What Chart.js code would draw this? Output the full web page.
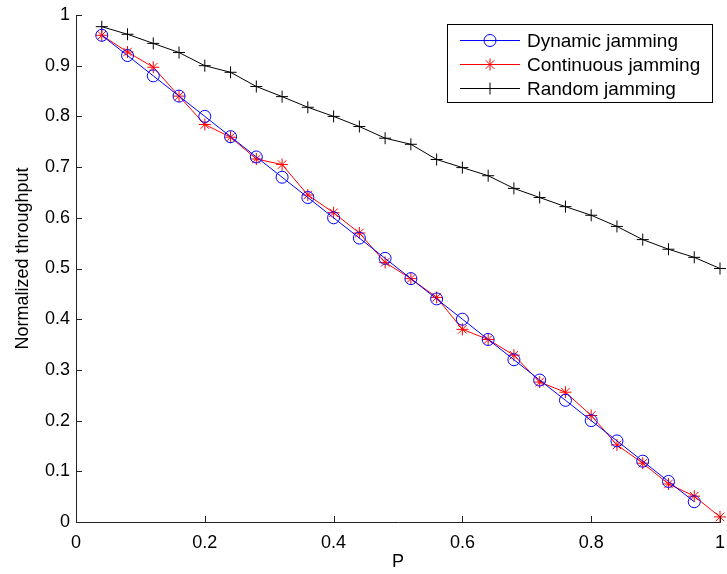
<!DOCTYPE html>
<html>
<head>
<meta charset="utf-8">
<script src="https://cdn.jsdelivr.net/npm/chart.js@4.4.1/dist/chart.umd.min.js"></script>
<style>
  body { margin: 0; background: #fff; }
  #wrap { width: 727px; height: 574px; }
</style>
</head>
<body>
<div id="wrap"><canvas id="throughput-chart" width="727" height="574"></canvas></div>
<script>
const pValues = [0.04, 0.08, 0.12, 0.16, 0.20, 0.24, 0.28, 0.32, 0.36, 0.40, 0.44, 0.48, 0.52,
  0.56, 0.60, 0.64, 0.68, 0.72, 0.76, 0.80, 0.84, 0.88, 0.92, 0.96, 1.00];
const dynamicJamming = [0.96, 0.92, 0.88, 0.84, 0.80, 0.76, 0.72, 0.68, 0.64, 0.60, 0.56, 0.52,
  0.48, 0.44, 0.40, 0.36, 0.32, 0.28, 0.24, 0.20, 0.16, 0.12, 0.08, 0.04];
const continuousJamming = [0.96, 0.927, 0.897, 0.84, 0.784, 0.759, 0.716, 0.705, 0.645, 0.610,
  0.570, 0.512, 0.480, 0.443, 0.380, 0.360, 0.329, 0.276, 0.256, 0.210, 0.152, 0.116, 0.075,
  0.051, 0.010];
const randomJamming = [0.977, 0.962, 0.944, 0.926, 0.900, 0.887, 0.859, 0.839, 0.818, 0.800,
  0.780, 0.757, 0.745, 0.715, 0.699, 0.683, 0.658, 0.640, 0.622, 0.605, 0.583, 0.557, 0.538,
  0.522, 0.500];
const xTicks = [0, 0.2, 0.4, 0.6, 0.8, 1];
const yTicks = [0, 0.1, 0.2, 0.3, 0.4, 0.5, 0.6, 0.7, 0.8, 0.9, 1];
const yTitle = "Normalized throughput";

const FONT = "Arial, 'Liberation Sans', Helvetica, sans-serif";

function toPoints(values) {
  return values.map((v, i) => ({ x: pValues[i], y: v }));
}

function drawMarker(ctx, style, x, y, r) {
  ctx.beginPath();
  if (style === "circle") {
    ctx.arc(x, y, r, 0, Math.PI * 2);
  } else if (style === "star") {
    ctx.moveTo(x - r, y); ctx.lineTo(x + r, y);
    ctx.moveTo(x, y - r); ctx.lineTo(x, y + r);
    const d = r * 0.707;
    ctx.moveTo(x - d, y - d); ctx.lineTo(x + d, y + d);
    ctx.moveTo(x - d, y + d); ctx.lineTo(x + d, y - d);
  } else {
    ctx.moveTo(x - r, y); ctx.lineTo(x + r, y);
    ctx.moveTo(x, y - r); ctx.lineTo(x, y + r);
  }
  ctx.stroke();
}

// inward tick marks, matlab style, plus the y label (sits a bit above centre)
const innerTicks = {
  id: "innerTicks",
  afterDraw(chart) {
    const ctx = chart.ctx;
    const xs = chart.scales.x, ys = chart.scales.y;
    const area = chart.chartArea;
    ctx.save();
    ctx.strokeStyle = "#222";
    ctx.lineWidth = 1;
    ctx.beginPath();
    xTicks.forEach((t) => {
      const px = Math.round(xs.getPixelForValue(t)) + 0.5;
      ctx.moveTo(px, area.bottom);
      ctx.lineTo(px, area.bottom - 6);
    });
    yTicks.forEach((t) => {
      const py = Math.round(ys.getPixelForValue(t)) + 0.5;
      ctx.moveTo(area.left, py);
      ctx.lineTo(area.left + 6, py);
    });
    ctx.stroke();

    ctx.translate(23, (area.top + area.bottom) / 2 - 10);
    ctx.rotate(-Math.PI / 2);
    ctx.font = "18px " + FONT;
    ctx.fillStyle = "#000";
    ctx.textAlign = "center";
    ctx.textBaseline = "middle";
    ctx.fillText(yTitle, 0, 0);
    ctx.restore();
  },
};

const boxLegend = {
  id: "boxLegend",
  afterDraw(chart) {
    const ctx = chart.ctx;
    const bx = 447.5, by = 24.5, bw = 265, bh = 78;
    ctx.save();
    ctx.fillStyle = "#fff";
    ctx.fillRect(bx, by, bw, bh);
    ctx.strokeStyle = "#000";
    ctx.lineWidth = 1;
    ctx.strokeRect(bx, by, bw, bh);
    ctx.font = "19px " + FONT;
    ctx.textBaseline = "middle";
    ctx.textAlign = "left";
    chart.data.datasets.forEach((ds, i) => {
      const y = 40.5 + i * 24;
      ctx.strokeStyle = ds.borderColor;
      ctx.beginPath();
      ctx.moveTo(460, y);
      ctx.lineTo(520, y);
      ctx.stroke();
      drawMarker(ctx, ds.pointStyle, 490, y, ds.pointRadius);
      ctx.fillStyle = "#000";
      ctx.fillText(ds.label, 527, y + 1);
    });
    ctx.restore();
  },
};

const ctx = document.getElementById("throughput-chart").getContext("2d");
new Chart(ctx, {
  type: "line",
  data: {
    datasets: [
      {
        label: "Dynamic jamming",
        data: toPoints(dynamicJamming),
        borderColor: "#0000ff",
        backgroundColor: "transparent",
        borderWidth: 1,
        pointStyle: "circle",
        pointRadius: 6,
        pointBorderWidth: 1,
        pointBackgroundColor: "transparent",
        pointBorderColor: "#0000ff",
        tension: 0,
        clip: false,
      },
      {
        label: "Continuous jamming",
        data: toPoints(continuousJamming),
        borderColor: "#ff0000",
        backgroundColor: "transparent",
        borderWidth: 1,
        pointStyle: "star",
        pointRadius: 6,
        pointBorderWidth: 1,
        pointBackgroundColor: "transparent",
        pointBorderColor: "#ff0000",
        tension: 0,
        clip: false,
      },
      {
        label: "Random jamming",
        data: toPoints(randomJamming),
        borderColor: "#000000",
        backgroundColor: "transparent",
        borderWidth: 1,
        pointStyle: "cross",
        pointRadius: 6,
        pointBorderWidth: 1,
        pointBackgroundColor: "transparent",
        pointBorderColor: "#000000",
        tension: 0,
        clip: false,
      },
    ],
  },
  options: {
    responsive: false,
    animation: false,
    events: [],
    layout: { padding: { top: 15, right: 6, left: 0, bottom: 0 } },
    plugins: {
      legend: { display: false },
      tooltip: { enabled: false },
    },
    scales: {
      x: {
        type: "linear",
        min: 0,
        max: 1,
        afterFit: (scale) => {
          scale.height = 52;
          scale.paddingLeft = 0;
          scale.paddingRight = 0;
        },
        afterBuildTicks: (scale) => { scale.ticks = xTicks.map((v) => ({ value: v })); },
        ticks: {
          color: "#000",
          font: { family: FONT, size: 18 },
          padding: 10,
          maxRotation: 0,
          callback: (v) => String(v),
        },
        grid: { drawOnChartArea: false, drawTicks: false },
        border: { color: "#222", width: 1 },
        title: {
          display: true,
          text: "P",
          color: "#000",
          font: { family: FONT, size: 18 },
          padding: { top: 0, bottom: 1 },
        },
      },
      y: {
        min: 0,
        max: 1,
        afterFit: (scale) => {
          scale.width = 76;
          scale.paddingTop = 0;
          scale.paddingBottom = 0;
        },
        afterBuildTicks: (scale) => { scale.ticks = yTicks.map((v) => ({ value: v })); },
        ticks: {
          color: "#000",
          font: { family: FONT, size: 18 },
          padding: 6,
          callback: (v) => String(v),
        },
        grid: { drawOnChartArea: false, drawTicks: false },
        border: { color: "#222", width: 1 },
      },
    },
  },
  plugins: [innerTicks, boxLegend],
});
</script>
</body>
</html>
